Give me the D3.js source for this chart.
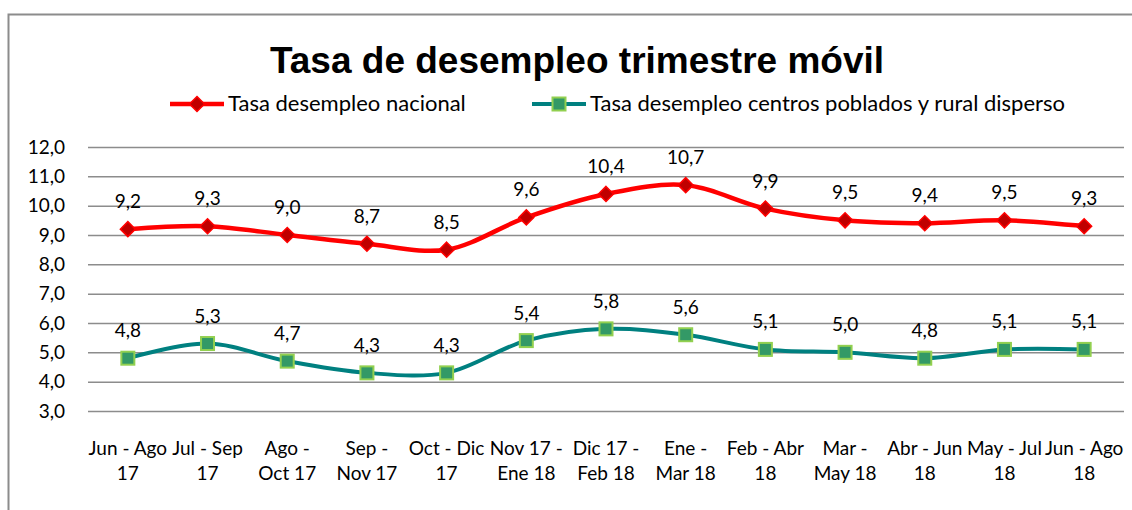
<!DOCTYPE html>
<html>
<head>
<meta charset="utf-8">
<script src="https://cdn.jsdelivr.net/npm/d3@7"></script>
<style>
  body { margin: 0; background: #fff; }
  text { font-family: "Lato", "Open Sans", sans-serif; fill: #000; }
</style>
</head>
<body>
<div id="wrapper"></div>
<script>
// Data
const categories = [
  ["Jun - Ago", "17"], ["Jul - Sep", "17"], ["Ago -", "Oct 17"], ["Sep -", "Nov 17"],
  ["Oct - Dic", "17"], ["Nov 17 -", "Ene 18"], ["Dic 17 -", "Feb 18"], ["Ene -", "Mar 18"],
  ["Feb - Abr", "18"], ["Mar -", "May 18"], ["Abr - Jun", "18"], ["May - Jul", "18"], ["Jun - Ago", "18"]
];
const nacional = [9.2, 9.3, 9.0, 8.7, 8.5, 9.6, 10.4, 10.7, 9.9, 9.5, 9.4, 9.5, 9.3];
const rural = [4.8, 5.3, 4.7, 4.3, 4.3, 5.4, 5.8, 5.6, 5.1, 5.0, 4.8, 5.1, 5.1];
const yTicks = [3, 4, 5, 6, 7, 8, 9, 10, 11, 12];
const seriesNames = ["Tasa desempleo nacional", "Tasa desempleo centros poblados y rural disperso"];

const width = 1132, height = 510;
const margin = { top: 147, right: 8, bottom: 99, left: 88 };
const boundedWidth = 1124 - margin.left;
const boundedHeight = 411 - margin.top;

const svg = d3.select("#wrapper").append("svg")
  .attr("width", width).attr("height", height);

// chart frame
svg.append("rect")
  .attr("x", 8.5).attr("y", 14.5)
  .attr("width", 1140).attr("height", 520)
  .attr("fill", "none").attr("stroke", "#8c8c8c").attr("stroke-width", 2);

svg.append("text")
  .attr("x", 577).attr("y", 73)
  .attr("text-anchor", "middle")
  .style("font-family", "'Liberation Sans', Arial, sans-serif")
  .style("font-weight", "bold")
  .style("font-size", "37px")
  .text("Tasa de desempleo trimestre móvil");

const bounds = svg.append("g")
  .attr("transform", `translate(${margin.left},${margin.top})`);

// Scales
const xScale = d3.scaleBand()
  .domain(d3.range(categories.length))
  .range([0, boundedWidth]);
const xCenter = i => xScale(i) + xScale.bandwidth() / 2;

const yScale = d3.scaleLinear()
  .domain([3, 12])
  .range([boundedHeight, 0]);

// gridlines + y labels
const yAxis = bounds.append("g")
  .call(d3.axisLeft(yScale).tickValues(yTicks)
    .tickSize(-boundedWidth).tickPadding(23)
    .tickFormat(d => d3.format(".1f")(d).replace(".", ",")));
yAxis.select(".domain").remove();
yAxis.selectAll(".tick line").attr("stroke", "#8c8c8c").attr("stroke-width", 1.5);
yAxis.selectAll(".tick text")
  .style("font-size", "19px").style("font-family", "Lato, sans-serif").attr("fill", "#000");

// x labels
const xLabels = bounds.append("g");
categories.forEach((c, i) => {
  const t = xLabels.append("text")
    .attr("x", xCenter(i))
    .attr("y", boundedHeight + 44)
    .attr("text-anchor", "middle")
    .style("font-size", "19px");
  t.append("tspan").attr("x", xCenter(i)).text(c[0]);
  t.append("tspan").attr("x", xCenter(i)).attr("dy", 25).text(c[1]);
});

const lineGenerator = d3.line()
  .x((d, i) => xCenter(i))
  .y(d => yScale(d))
  .curve(d3.curveCatmullRom.alpha(0.5));

const fmt = v => d3.format(".1f")(v).replace(".", ",");

function drawSeries(data, color, width, markerFn) {
  bounds.append("path")
    .attr("d", lineGenerator(data))
    .attr("fill", "none")
    .attr("stroke", color)
    .attr("stroke-width", width);
  data.forEach((v, i) => markerFn(bounds, xCenter(i), yScale(v)));
  bounds.append("g").selectAll("text")
    .data(data)
    .join("text")
    .attr("x", (d, i) => xCenter(i))
    .attr("y", d => yScale(d) - 21)
    .attr("text-anchor", "middle")
    .style("font-size", "19px")
    .text(fmt);
}

const diamond = (g, x, y) => g.append("path")
  .attr("d", `M${x},${y - 7.5}L${x + 7.5},${y}L${x},${y + 7.5}L${x - 7.5},${y}Z`)
  .attr("fill", "#c00000").attr("stroke", "#ff0000").attr("stroke-width", 1.5);
const square = (g, x, y) => g.append("rect")
  .attr("x", x - 6.5).attr("y", y - 6.5).attr("width", 13).attr("height", 13)
  .attr("fill", "#339966").attr("stroke", "#92d050").attr("stroke-width", 2);

drawSeries(nacional, "#ff0000", 4.5, diamond);
drawSeries(rural, "#008080", 4, square);

// legend
const legend = svg.append("g");
const legendItems = [
  { x: 170, color: "#ff0000", w: 4.5, marker: diamond, name: seriesNames[0] },
  { x: 532, color: "#008080", w: 4, marker: square, name: seriesNames[1] }
];
legendItems.forEach(d => {
  legend.append("line")
    .attr("x1", d.x).attr("x2", d.x + 54)
    .attr("y1", 104).attr("y2", 104)
    .attr("stroke", d.color).attr("stroke-width", d.w);
  d.marker(legend, d.x + 27, 104);
  legend.append("text")
    .attr("x", d.x + 58).attr("y", 111)
    .style("font-size", "22px")
    .text(d.name);
});
</script>
</body>
</html>
